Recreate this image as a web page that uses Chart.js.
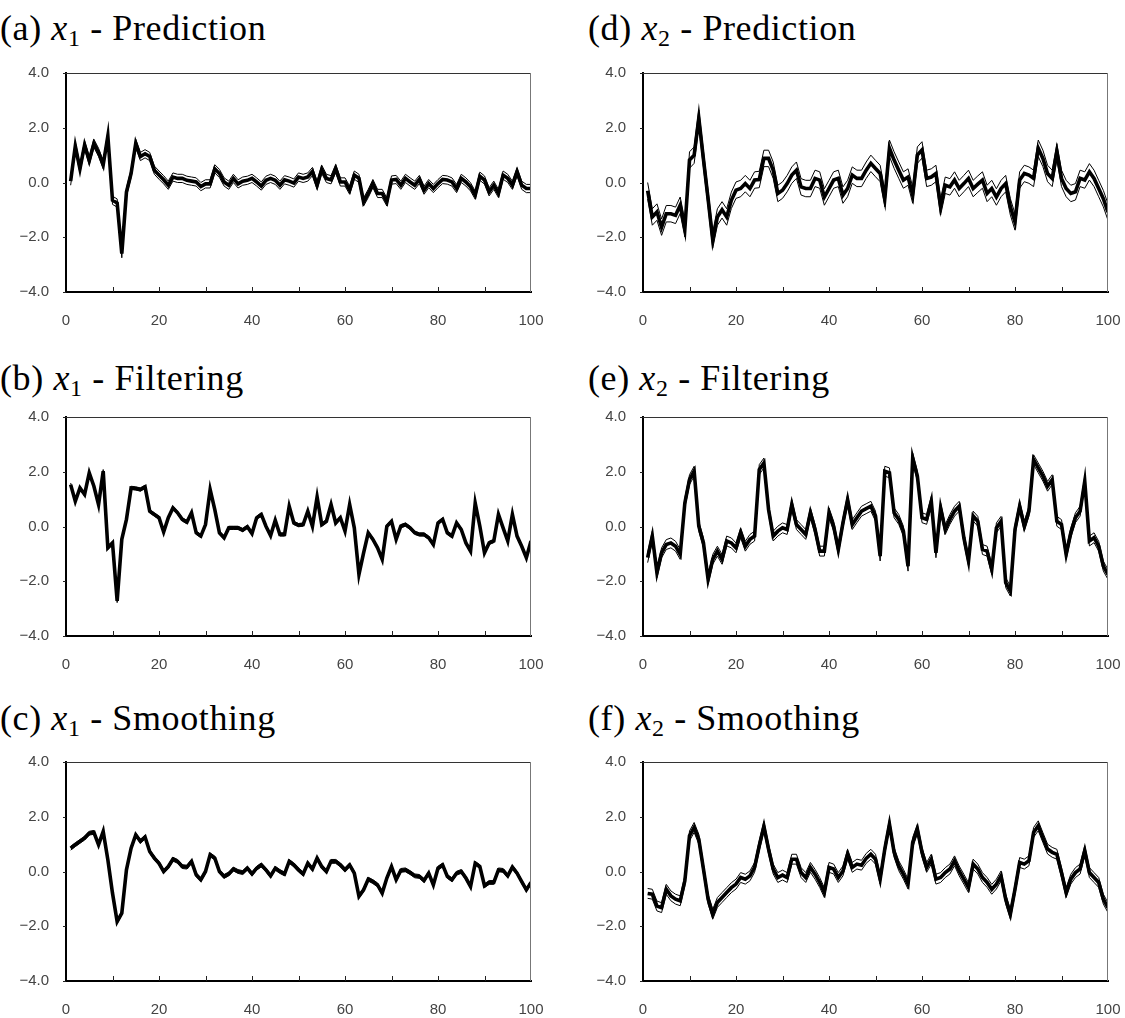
<!DOCTYPE html>
<html>
<head>
<meta charset="utf-8">
<script src="https://cdn.jsdelivr.net/npm/chart.js@4"></script>
<style>
  html, body { margin: 0; padding: 0; background: #fff; }
  body { width: 1125px; height: 1018px; position: relative; overflow: hidden; }
  .title {
    position: absolute;
    font-family: "Liberation Serif", "DejaVu Serif", serif;
    font-size: 36px;
    letter-spacing: 0.6px;
    line-height: 36px;
    color: #000;
    white-space: nowrap;
  }
  .title sub { font-size: 24px; vertical-align: -6px; line-height: 0; }
  canvas { position: absolute; }
</style>
</head>
<body>
<script>
// axis ticks
const xTicks = [0, 20, 40, 60, 80, 100];
const xTickMarks = [10, 20, 30, 40, 50, 60, 70, 80, 90];
const yTicks = [-4, -2, 0, 2, 4];

// estimated state, x1
const predX1 = [
  0.05, 1.33, 0.5, 1.37, 0.8, 1.43, 1.1, 0.65, 1.7, -0.65,
  -0.75, -2.6, -0.35, 0.33, 1.43, 0.95, 1.05, 0.95, 0.45, 0.27,
  0.1, -0.1, 0.2, 0.15, 0.15, 0.08, 0.05, 0.02, -0.15, -0.05,
  -0.05, 0.5, 0.33, 0.02, -0.1, 0.15, -0.05, 0.05, 0.08, 0.15,
  0.02, -0.13, 0.08, 0.15, 0.08, -0.1, 0.1, 0.05, -0.02, 0.2,
  0.15, 0.2, 0.4, -0.1, 0.48, 0.15, 0.1, 0.51, 0.02, 0.02,
  -0.28, 0.27, 0.15, -0.71, -0.4, -0.04, -0.4, -0.4, -0.71, 0.09,
  0.11, -0.1, 0.15, 0.02, -0.1, 0.11, -0.28, -0.04, -0.22, -0.04,
  0.11, 0.09, 0.02, -0.22, 0.15, 0.02, -0.16, -0.46, 0.23, 0.09,
  -0.34, -0.1, -0.4, 0.27, 0.15, -0.1, 0.39, -0.1, -0.22, -0.22
];
const filtX1 = [
  1.53, 0.92, 1.41, 1.17, 1.96, 1.47, 0.8, 2.02, -0.78, -0.6,
  -2.72, -0.47, 0.26, 1.41, 1.39, 1.35, 1.45, 0.56, 0.44, 0.32,
  -0.2, 0.32, 0.68, 0.5, 0.26, 0.16, 0.5, -0.23, -0.35, 0.07,
  1.35, 0.62, -0.23, -0.41, -0.05, -0.05, -0.05, -0.13, -0.01, -0.26,
  0.32, 0.44, 0.01, -0.33, 0.23, -0.29, -0.29, 0.74, 0.13, 0.05,
  0.07, 0.56, 0.01, 1.08, 0.07, 0.19, 0.8, 0.13, 0.32, -0.17,
  0.8, -0.05, -1.75, -0.96, -0.23, -0.47, -0.78, -1.2, 0.01, 0.19,
  -0.47, 0.01, 0.07, -0.05, -0.23, -0.29, -0.29, -0.41, -0.66, 0.13,
  0.26, -0.23, -0.35, 0.13, -0.11, -0.6, -0.9, 0.86, 0.01, -0.96,
  -0.6, -0.53, 0.44, -0.05, -0.53, 0.44, -0.35, -0.72, -1.14, -0.53
];
const smoothX1 = [
  0.85, 0.98, 1.1, 1.22, 1.4, 1.43, 0.98, 1.46, 0.43, -0.79,
  -1.83, -1.52, 0.06, 0.85, 1.34, 1.1, 1.26, 0.73, 0.49, 0.3,
  0.0, 0.18, 0.45, 0.37, 0.18, 0.16, 0.37, -0.12, -0.3, 0.0,
  0.61, 0.49, 0.0, -0.18, -0.09, 0.09, 0.0, -0.04, 0.12, -0.09,
  0.12, 0.24, 0.06, -0.16, 0.12, 0.0, -0.09, 0.37, 0.24, 0.06,
  -0.09, 0.3, 0.09, 0.49, 0.18, 0.0, 0.37, 0.37, 0.24, 0.06,
  0.24, -0.06, -0.91, -0.67, -0.28, -0.37, -0.49, -0.79, -0.24, 0.18,
  -0.3, 0.04, 0.06, -0.04, -0.16, -0.18, -0.33, -0.06, -0.49, 0.12,
  0.24, -0.18, -0.3, -0.06, 0.0, -0.24, -0.55, 0.3, 0.18, -0.52,
  -0.4, -0.4, 0.06, 0.04, -0.16, 0.16, -0.06, -0.37, -0.67, -0.4
];

// estimated state, x2
const predX2 = [
  -0.3, -1.26, -1.08, -1.63, -1.14, -1.14, -1.2, -0.83, -1.69, 0.82,
  1.0, 2.35, 0.85, -0.6, -2.1, -1.26, -1.0, -1.26, -0.65, -0.28,
  -0.22, -0.04, -0.22, 0.09, 0.11, 0.88, 0.88, 0.45, -0.4, -0.28,
  -0.04, 0.27, 0.45, -0.16, -0.22, -0.22, 0.15, 0.09, -0.53, -0.22,
  0.09, 0.15, -0.46, -0.22, 0.27, 0.15, 0.15, 0.45, 0.7, 0.51,
  0.33, -0.59, 1.25, 0.82, 0.45, 0.09, 0.2, -0.46, 1.0, 1.19,
  0.15, 0.2, 0.33, -0.89, -0.1, -0.16, 0.09, -0.22, -0.04, 0.15,
  -0.22, -0.06, 0.09, -0.4, -0.22, -0.53, -0.22, -0.04, -0.89, -1.44,
  0.09, 0.33, 0.27, 0.15, 1.25, 0.88, 0.33, 0.15, 1.12, 0.15,
  -0.22, -0.4, -0.34, 0.15, 0.09, 0.39, 0.15, -0.22, -0.59, -1.08
];
const filtX2 = [
  -1.14, -0.35, -1.69, -0.96, -0.66, -0.6, -0.72, -1.02, 0.86, 1.71,
  2.02, 0.01, -0.6, -1.93, -1.2, -0.9, -1.2, -0.53, -0.6, -0.78,
  -0.23, -0.72, -0.47, -0.35, 2.08, 2.32, 0.62, -0.35, -0.17, -0.05,
  -0.11, 0.8, 0.07, -0.11, -0.29, 0.5, -0.11, -0.9, -0.9, 0.5,
  0.01, -0.84, 0.13, 0.98, 0.07, 0.32, 0.56, 0.65, 0.74, 0.38,
  -1.08, 2.02, 1.96, 0.5, 0.26, -0.17, -1.45, 2.5, 1.84, 0.32,
  0.26, 0.92, -0.96, 0.68, -0.11, 0.26, 0.56, 0.74, -0.41, -1.26,
  0.38, 0.19, -0.84, -0.9, -1.57, -0.05, 0.19, -2.05, -2.36, -0.11,
  0.74, 0.01, 0.56, 2.44, 2.14, 1.84, 1.47, 1.71, 0.19, 0.07,
  -1.02, -0.23, 0.32, 0.56, 1.65, -0.53, -0.41, -0.72, -1.45, -1.75
];
const smoothX2 = [
  -0.8, -0.83, -1.26, -1.32, -0.65, -0.89, -1.01, -1.07, -0.34, 1.3,
  1.61, 1.18, 0.09, -1.01, -1.56, -1.13, -0.95, -0.77, -0.59, -0.46,
  -0.22, -0.28, -0.16, 0.15, 0.94, 1.65, 0.82, 0.09, -0.22, -0.13,
  -0.22, 0.45, 0.45, -0.04, -0.22, 0.15, -0.1, -0.4, -0.77, 0.15,
  0.09, -0.22, 0.02, 0.63, 0.15, 0.27, 0.23, 0.48, 0.63, 0.45,
  -0.28, 0.82, 1.73, 0.7, 0.21, -0.1, -0.46, 1.06, 1.55, 0.7,
  0.15, 0.45, -0.28, -0.22, -0.04, 0.09, 0.39, 0.02, -0.28, -0.59,
  0.27, 0.09, -0.22, -0.4, -0.65, -0.46, -0.16, -1.01, -1.56, -0.65,
  0.33, 0.27, 0.39, 1.43, 1.67, 1.24, 0.82, 0.7, 0.63, -0.04,
  -0.77, -0.28, -0.04, 0.09, 0.76, -0.04, -0.22, -0.4, -1.01, -1.32
];

// half-width of the interval lines around each estimate
const bandPredX1 = 0.15;
const bandFiltX1 = 0.06;
const bandSmoothX1 = 0.07;
const bandPredX2 = 0.3;
const bandFiltX2 = 0.18;
const bandSmoothX2 = 0.18;

const panels = [
  { tag: '(a)', idx: '1', name: 'Prediction', values: predX1, band: bandPredX1, col: 0, row: 0 },
  { tag: '(b)', idx: '1', name: 'Filtering', values: filtX1, band: bandFiltX1, col: 0, row: 1 },
  { tag: '(c)', idx: '1', name: 'Smoothing', values: smoothX1, band: bandSmoothX1, col: 0, row: 2 },
  { tag: '(d)', idx: '2', name: 'Prediction', values: predX2, band: bandPredX2, col: 1, row: 0 },
  { tag: '(e)', idx: '2', name: 'Filtering', values: filtX2, band: bandFiltX2, col: 1, row: 1 },
  { tag: '(f)', idx: '2', name: 'Smoothing', values: smoothX2, band: bandSmoothX2, col: 1, row: 2 }
];

const colLeft = [0, 577];
const plotTop = [73, 417, 762];
const titleLeft = [0, 588];
const titleTop = [10, 360, 700];

// box around the plot plus the small inward ticks on the time axis
const framePlugin = {
  id: 'frame',
  afterDraw(chart) {
    const { ctx, chartArea: a, scales: { x, y } } = chart;
    ctx.save();
    ctx.lineWidth = 1;
    ctx.strokeStyle = '#333';
    ctx.beginPath();
    ctx.moveTo(a.left, a.top + 0.5);
    ctx.lineTo(a.right, a.top + 0.5);
    ctx.stroke();
    ctx.strokeStyle = '#777';
    ctx.beginPath();
    ctx.moveTo(a.right - 0.5, a.top);
    ctx.lineTo(a.right - 0.5, a.bottom);
    ctx.stroke();
    ctx.strokeStyle = '#222';
    ctx.beginPath();
    xTickMarks.forEach(v => {
      const px = Math.round(x.getPixelForValue(v)) + 0.5;
      ctx.moveTo(px, a.bottom);
      ctx.lineTo(px, a.bottom - 5);
    });
    yTicks.forEach(v => {
      const py = Math.round(y.getPixelForValue(v)) + 0.5;
      ctx.moveTo(a.left - 3, py);
      ctx.lineTo(a.left, py);
    });
    ctx.stroke();
    ctx.restore();
  }
};

function toPoints(values, offset) {
  return values.map((v, i) => ({ x: i + 1, y: v + offset }));
}

panels.forEach(p => {
  const title = document.createElement('div');
  title.className = 'title';
  title.style.left = titleLeft[p.col] + 'px';
  title.style.top = titleTop[p.row] + 'px';
  title.innerHTML = `${p.tag} <i>x</i><sub>${p.idx}</sub> - ${p.name}`;
  document.body.appendChild(title);

  const canvas = document.createElement('canvas');
  canvas.width = 545;
  canvas.height = 270;
  canvas.style.left = colLeft[p.col] + 'px';
  canvas.style.top = (plotTop[p.row] - 13) + 'px';
  document.body.appendChild(canvas);

  const thin = { borderColor: '#000', borderWidth: 1, pointRadius: 0, tension: 0, fill: false };

  new Chart(canvas.getContext('2d'), {
    type: 'line',
    data: {
      datasets: [
        { ...thin, data: toPoints(p.values, -p.band) },
        { ...thin, data: toPoints(p.values, p.band) },
        { borderColor: '#000', borderWidth: 3.6, pointRadius: 0, tension: 0, fill: false,
          data: toPoints(p.values, 0) }
      ]
    },
    options: {
      responsive: false,
      animation: false,
      events: [],
      layout: { padding: { left: 0, top: 13, right: 14, bottom: 0 } },
      plugins: { legend: { display: false }, tooltip: { enabled: false } },
      scales: {
        x: {
          type: 'linear',
          min: 0,
          max: 100,
          afterBuildTicks: s => { s.ticks = xTicks.map(v => ({ value: v })); },
          afterFit: s => { s.height = 38; s.paddingLeft = 0; s.paddingRight = 0; },
          grid: { display: false },
          border: { color: '#000', width: 2 },
          ticks: { color: '#444', padding: 12, maxRotation: 0,
                   font: { family: 'Liberation Sans', size: 15 } }
        },
        y: {
          min: -4,
          max: 4,
          afterBuildTicks: s => { s.ticks = yTicks.map(v => ({ value: v })); },
          afterFit: s => { s.width = 66; s.paddingTop = 0; s.paddingBottom = 0; },
          grid: { display: false },
          border: { color: '#000', width: 2 },
          ticks: { color: '#444', padding: 9,
                   font: { family: 'Liberation Sans', size: 15 },
                   callback: v => (v < 0 ? '\u2212' : '') + Math.abs(v).toFixed(1) }
        }
      }
    },
    plugins: [framePlugin]
  });
});
</script>
</body>
</html>
